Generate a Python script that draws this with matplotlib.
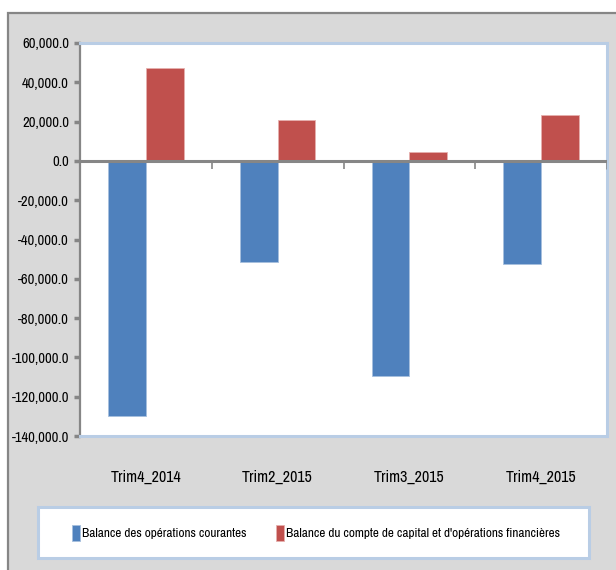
import numpy as np
import matplotlib
matplotlib.use("Agg")
import matplotlib.pyplot as plt
from matplotlib.patches import Rectangle

plt.rcParams["font.family"] = ["Archivo Narrow", "Carlito", "DejaVu Sans"]
plt.rcParams["axes.unicode_minus"] = False

categories = ["Trim4_2014", "Trim2_2015", "Trim3_2015", "Trim4_2015"]
courantes = [-130000, -51600, -109600, -52500]
capital = [47100, 20800, 4400, 23400]
noms = ["Balance des opérations courantes",
        "Balance du compte de capital et d'opérations financières"]
yticks = np.arange(-140000, 60001, 20000)

W, H = 616, 570
fig = plt.figure(figsize=(W / 100, H / 100), dpi=100, facecolor="white")

# fond gris du graphique avec bordure haut / gauche
fond = Rectangle((8 / W, -0.1), 1.2, 1 - 13 / H + 0.1,
                 transform=fig.transFigure, facecolor="#d9d9d9",
                 edgecolor="#868686", linewidth=1.6, zorder=-10)
fig.patches.append(fond)

# cadre de la legende
cadre = Rectangle((38 / W, (H - 558) / H), 551 / W, 51 / H,
                  transform=fig.transFigure, facecolor="white",
                  edgecolor="#b9cde5", linewidth=2.2, zorder=-5)
fig.patches.append(cadre)

ax = fig.add_axes([80 / W, (H - 436) / H, 527 / W, (436 - 43) / H])
ax.set_facecolor("white")

x = np.arange(len(categories))
bw = 0.286
ax.bar(x - bw, courantes, bw, align="edge", color="#4f81bd",
       edgecolor="#a7c0de", linewidth=0.6, label=noms[0], zorder=2)
ax.bar(x, capital, bw, align="edge", color="#c0504d",
       edgecolor="#e6b0ae", linewidth=0.6, label=noms[1], zorder=2)

ax.set_xlim(-0.5, len(categories) - 0.5)
ax.set_ylim(-140000, 60000)

# ligne du zero et petites graduations entre categories
ax.axhline(0, color="#868686", linewidth=2.2, zorder=3)
ax.vlines(x[:-1] + 0.5, -4200, 0, color="#868686", linewidth=1.2, zorder=3)
ax.vlines([len(categories) - 0.5], -4200, 0, color="#868686", linewidth=1.8, zorder=3)

ax.set_yticks(yticks)
ax.set_yticklabels(["{:,.1f}".format(v) for v in yticks], fontsize=10.5)
ax.tick_params(axis="y", length=4, width=2.5, color="#868686", pad=4)
ax.set_xticks(x)
ax.set_xticklabels(categories, fontsize=11.5)
ax.tick_params(axis="x", length=0, pad=24)

for s in ["top", "right", "bottom"]:
    ax.spines[s].set_color("#b9cde5")
    ax.spines[s].set_linewidth(2.2)
ax.spines["left"].set_color("#868686")
ax.spines["left"].set_linewidth(1.6)

leg = fig.legend(loc="center", ncol=2,
                 bbox_to_anchor=(316 / W, (H - 533) / H),
                 bbox_transform=fig.transFigure, fontsize=9.5,
                 frameon=False, handlelength=0.6, handleheight=1.5,
                 handletextpad=0.15, columnspacing=2.3, borderaxespad=0)

fig.savefig("out.png", dpi=100, facecolor=fig.get_facecolor())
